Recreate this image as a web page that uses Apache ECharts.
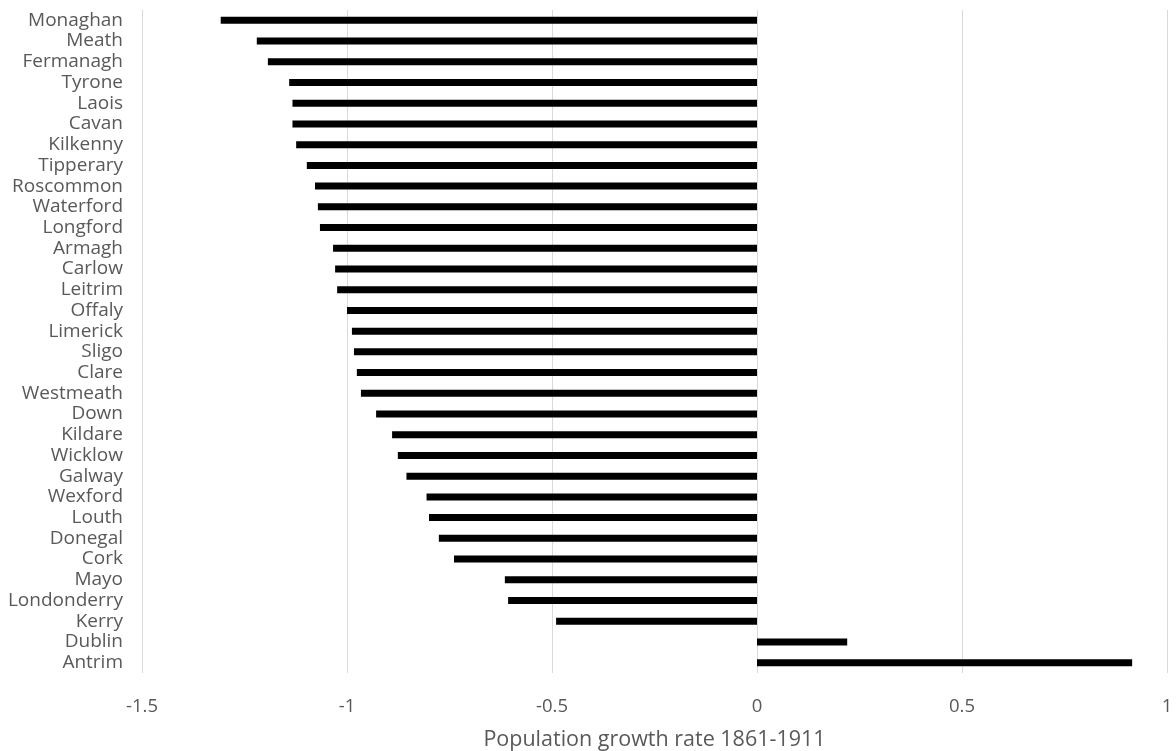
<!DOCTYPE html>
<html>
<head>
<meta charset="utf-8">
<script src="https://cdn.jsdelivr.net/npm/echarts@6/dist/echarts.min.js"></script>
<style>html,body{margin:0;padding:0;background:#fff;}#c{width:1176px;height:751px;}</style>
</head>
<body>
<div id="c"></div>
<script>
const counties = ["Monaghan","Meath","Fermanagh","Tyrone","Laois","Cavan","Kilkenny","Tipperary","Roscommon","Waterford","Longford","Armagh","Carlow","Leitrim","Offaly","Limerick","Sligo","Clare","Westmeath","Down","Kildare","Wicklow","Galway","Wexford","Louth","Donegal","Cork","Mayo","Londonderry","Kerry","Dublin","Antrim"];
const growthRate = [-1.308,-1.22,-1.193,-1.141,-1.133,-1.133,-1.124,-1.098,-1.078,-1.071,-1.066,-1.034,-1.029,-1.024,-1.0,-0.988,-0.983,-0.976,-0.966,-0.929,-0.89,-0.876,-0.855,-0.806,-0.8,-0.776,-0.739,-0.615,-0.607,-0.49,0.22,0.915];
const xTicks = {min:-1.5, max:1, interval:0.5};
const xTitle = "Population growth rate 1861-1911";

const chart = echarts.init(document.getElementById('c'), null, {renderer:'canvas'});
const font = 'Open Sans';
chart.setOption({
  animation:false,
  grid:{left:142, right:9, top:10, bottom:78, containLabel:false, outerBoundsMode:'none'},
  xAxis:{
    type:'value', min:xTicks.min, max:xTicks.max, interval:xTicks.interval,
    axisLine:{show:false}, axisTick:{show:false},
    axisLabel:{color:'#595959', fontSize:18.5, fontFamily:font, margin:24,
      formatter:v=>String(Math.round(v*10)/10)},
    splitLine:{show:true, lineStyle:{color:'#d9d9d9', width:1}},
    name:xTitle, nameLocation:'middle', nameGap:56,
    nameTextStyle:{color:'#595959', fontSize:21.5, fontFamily:font}
  },
  yAxis:{
    type:'category', data:counties, inverse:true,
    axisLine:{show:false}, axisTick:{show:false},
    axisLabel:{color:'#595959', fontSize:19, fontFamily:font, margin:19, interval:0}
  },
  series:[{
    type:'bar', data:growthRate, barWidth:7,
    itemStyle:{color:'#000000'}
  }]
});
</script>
</body>
</html>
